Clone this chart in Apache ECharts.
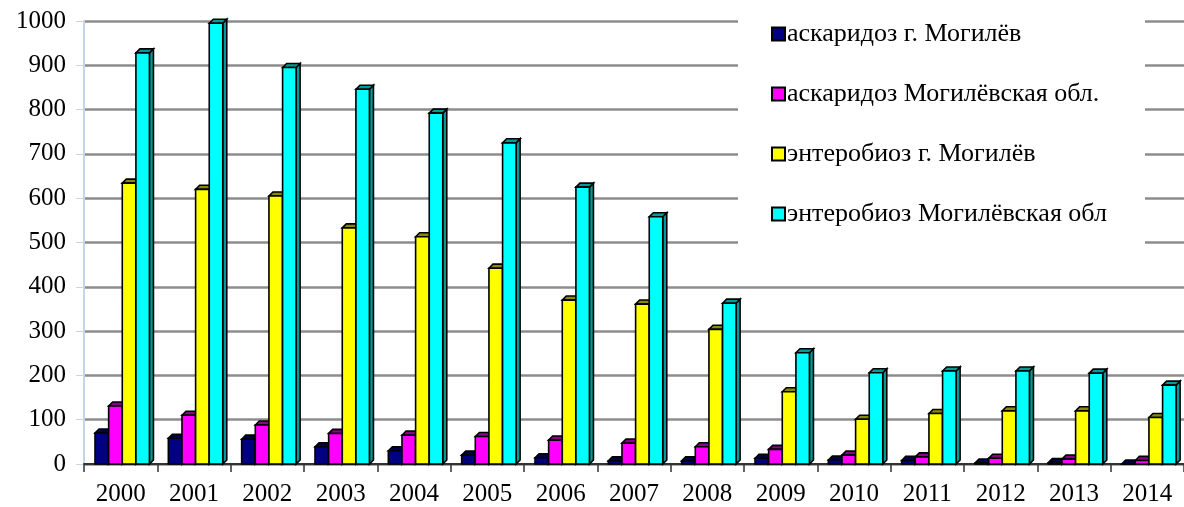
<!DOCTYPE html>
<html>
<head>
<meta charset="utf-8">
<script src="https://cdn.jsdelivr.net/npm/echarts@6/dist/echarts.min.js"></script>
<style>
  html, body { margin: 0; padding: 0; background: #fff; }
  #chart { width: 1184px; height: 507px; }
</style>
</head>
<body>
<div id="chart"></div>
<script>
const years = ['2000', '2001', '2002', '2003', '2004', '2005', '2006', '2007',
  '2008', '2009', '2010', '2011', '2012', '2013', '2014']

const ascCity = [70, 58, 56, 39, 30, 20, 14, 7, 7, 13, 9, 8, 2, 3, 0]
const ascRegion = [131, 110, 88, 69, 65, 62, 54, 47, 39, 33, 20, 16, 13, 11, 8]
const entCity = [634, 620, 605, 533, 513, 442, 370, 361, 304, 163, 101, 114, 120, 120, 105]
const entRegion = [928, 995, 895, 846, 792, 725, 625, 558, 363, 251, 206, 210, 210, 205, 178]

const seriesNames = [
  'аскаридоз г. Могилёв',
  'аскаридоз Могилёвская обл.',
  'энтеробиоз г. Могилёв',
  'энтеробиоз Могилёвская обл'
]
const faceColors = ['#000080', '#ff00ff', '#ffff00', '#00ffff']
const sideColors = ['#00004a', '#8a008a', '#8a8a00', '#009a9a']

const chart = echarts.init(document.getElementById('chart'))
const font = '"Liberation Serif", "Times New Roman", serif'

// псевдо-3D столбик: лицевая грань, верх и правая грань
const bar3d = (idx) => (params, api) => {
  const cat = api.value(0)
  const val = api.value(1)
  const top = api.coord([cat, val])
  const base = api.coord([cat, 0])
  const band = api.size([1, 0])[0]
  const w = band * 0.184
  const d = band * 0.055
  const x0 = top[0] - band * 0.35 + band * 0.186 * idx
  const y0 = base[1]
  const y1 = top[1]
  const line = { stroke: '#000', lineWidth: 1.6 }
  return {
    type: 'group',
    children: [
      {
        type: 'polygon',
        shape: { points: [[x0 + w, y1], [x0 + w + d, y1 - d], [x0 + w + d, y0 - d], [x0 + w, y0]] },
        style: Object.assign({ fill: sideColors[idx] }, line)
      },
      {
        type: 'polygon',
        shape: { points: [[x0, y1], [x0 + d, y1 - d], [x0 + w + d, y1 - d], [x0 + w, y1]] },
        style: Object.assign({ fill: sideColors[idx] }, line)
      },
      {
        type: 'rect',
        shape: { x: x0, y: y1, width: w, height: y0 - y1 },
        style: Object.assign({ fill: faceColors[idx] }, line)
      }
    ]
  }
}

const allData = [ascCity, ascRegion, entCity, entRegion]

const option = {
  animation: false,
  grid: { left: 84, top: 21, width: 1104, height: 443, containLabel: false },
  graphic: [{
    type: 'rect',
    z: 3,
    shape: { x: 738, y: 0, width: 407, height: 246 },
    style: { fill: '#fff' }
  }],
  legend: {
    z: 5,
    orient: 'vertical',
    left: 771,
    top: 21,
    padding: 0,
    icon: 'rect',
    itemWidth: 13,
    itemHeight: 13,
    itemGap: 34,
    itemStyle: { borderColor: '#000', borderWidth: 2 },
    textStyle: { fontFamily: font, fontSize: 26, color: '#000', padding: [0, 0, 0, -3] },
    data: seriesNames
  },
  xAxis: {
    type: 'category',
    data: years,
    axisLine: { lineStyle: { color: '#333', width: 2 } },
    axisTick: { show: true, length: 8, lineStyle: { color: '#333', width: 1.5 } },
    axisLabel: { fontFamily: font, fontSize: 25, color: '#000', margin: 18 }
  },
  yAxis: {
    type: 'value',
    min: 0,
    max: 1000,
    interval: 100,
    axisLine: { show: true, lineStyle: { color: '#c5d5e8', width: 2 } },
    axisTick: { show: true, length: 8, lineStyle: { color: '#c5d5e8' } },
    axisLabel: { fontFamily: font, fontSize: 25, color: '#000', margin: 18, formatter: (v) => String(v) },
    splitLine: { lineStyle: { color: '#8c8c8c', width: 2.5 } }
  },
  series: allData.map((data, i) => ({
    name: seriesNames[i],
    type: 'custom',
    itemStyle: { color: faceColors[i] },
    renderItem: bar3d(i),
    encode: { x: 0, y: 1 },
    data: data.map((v, k) => [k, v])
  }))
}

chart.setOption(option)
</script>
</body>
</html>
